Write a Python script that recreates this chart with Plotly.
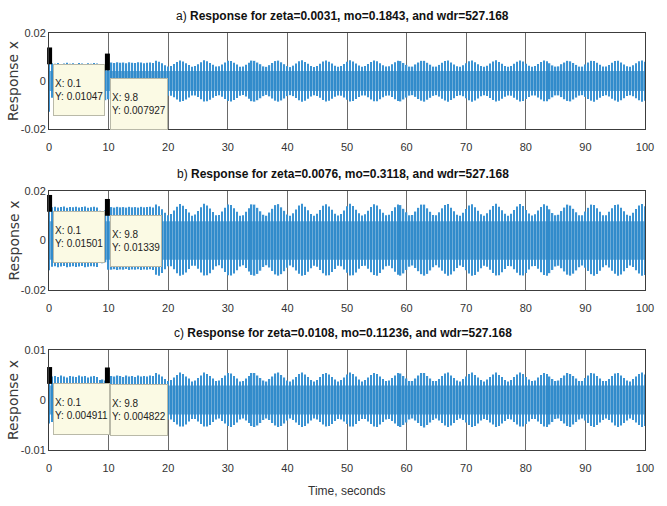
import numpy as np
import plotly.graph_objects as go

# ---------------- data ----------------
time_step = 0.5          # seconds between plotted samples
n_samples = 201          # 0 .. 100 s
t = np.round(np.arange(n_samples) * time_step, 3)

# upper / lower reach of the response around each sample, units of 1e-4
upper_a_e4 = [
    105, 74, 72, 75, 71, 73, 76, 72, 74, 70, 75, 73, 71, 74, 72, 75, 73,
    62, 60, 63,
    79,
    77, 75, 78, 76, 77, 74, 78, 76, 75, 78, 77, 74, 76, 77, 75,
    84, 80, 74, 66, 60, 63, 71, 79, 85, 81, 74, 67, 59, 62, 70,
    78, 86, 82, 75, 68, 60, 61, 69, 77, 84, 83, 76, 69, 59, 60,
    68, 76, 85, 84, 77, 70, 61, 59, 66, 75, 83, 85, 78, 70, 62,
    58, 64, 73, 82, 86, 79, 72, 63, 58, 63, 72, 81, 85, 80, 73,
    64, 59, 63, 71, 80, 86, 81, 73, 65, 59, 62, 71, 79, 85, 82,
    74, 66, 60, 61, 70, 78, 84, 83, 75, 67, 60, 60, 69, 77, 84,
    84, 76, 68, 60, 60, 67, 76, 83, 85, 77, 69, 61, 59, 66, 74,
    82, 85, 78, 70, 62, 59, 64, 73, 81, 86, 79, 72, 63, 59, 63,
    72, 80, 85, 81, 72, 64, 59, 62, 71, 79, 85, 82, 74, 65, 60,
    61, 70, 77, 84, 82, 75, 67, 60, 60, 69, 77, 84, 83, 76, 68,
    60, 60, 67, 76, 83, 84, 77, 69, 61, 59, 66, 74, 82, 85, 80,
]
lower_a_e4 = [
    -128, -70, -72, -68, -71, -69, -72, -70, -73, -69, -71, -74, -70, -72, -69, -71, -70,
    -82, -84, -80,
    -76,
    -76, -74, -77, -75, -78, -76, -74, -77, -75, -78, -76, -74, -77, -75, -76,
    -80, -83, -77, -69, -61, -61, -68, -77, -86, -83, -77, -69, -60, -60, -67,
    -76, -85, -84, -78, -70, -62, -59, -66, -75, -83, -85, -79, -71, -61, -58,
    -65, -74, -84, -86, -80, -72, -63, -58, -64, -73, -82, -86, -81, -73, -63,
    -59, -63, -71, -80, -86, -82, -74, -65, -59, -62, -70, -79, -85, -82, -74,
    -66, -60, -61, -69, -78, -85, -83, -75, -67, -60, -60, -68, -77, -84, -84,
    -76, -68, -61, -60, -67, -76, -83, -85, -77, -69, -61, -59, -66, -75, -82,
    -86, -78, -70, -62, -59, -65, -74, -81, -86, -79, -72, -63, -59, -64, -72,
    -80, -86, -81, -73, -64, -59, -63, -71, -79, -85, -82, -74, -66, -60, -61,
    -70, -78, -85, -83, -75, -67, -60, -60, -69, -77, -84, -84, -76, -68, -60,
    -60, -67, -76, -83, -85, -77, -69, -61, -59, -66, -75, -82, -86, -78, -70,
    -62, -59, -65, -74, -81, -86, -80, -72, -63, -59, -64, -72, -80, -86, -82,
]
upper_b_e4 = [
    150, 134, 136, 133, 135, 137, 132, 135, 134, 136, 133, 135, 137, 132, 134, 136, 133,
    120, 118, 122,
    134,
    135, 133, 136, 134, 135, 133, 136, 134, 135, 133, 136, 134, 135, 136, 133,
    145, 138, 126, 112, 102, 107, 121, 136, 147, 140, 127, 113, 100, 105, 119,
    134, 148, 141, 129, 115, 102, 103, 117, 132, 145, 143, 130, 116, 100, 102,
    116, 130, 146, 145, 132, 118, 104, 100, 113, 128, 143, 147, 134, 120, 105,
    100, 110, 125, 141, 148, 136, 122, 107, 100, 108, 123, 140, 146, 137, 124,
    108, 101, 107, 121, 138, 148, 139, 124, 110, 101, 106, 120, 135, 146, 141,
    126, 112, 102, 104, 119, 134, 145, 143, 128, 114, 102, 103, 117, 132, 145,
    145, 130, 116, 103, 102, 114, 130, 143, 147, 132, 118, 104, 100, 112, 127,
    141, 146, 134, 120, 106, 100, 110, 124, 139, 148, 136, 122, 108, 100, 108,
    123, 137, 147, 139, 123, 109, 101, 106, 121, 135, 146, 140, 126, 111, 102,
    104, 119, 133, 145, 141, 128, 114, 102, 102, 117, 132, 145, 143, 130, 116,
    102, 102, 116, 130, 143, 145, 132, 118, 104, 100, 112, 127, 141, 147, 138,
]
lower_b_e4 = [
    -120, -106, -104, -108, -105, -103, -108, -106, -104, -107, -105, -103, -108, -106, -104, -105, -107,
    -90, -92, -88,
    -118,
    -118, -116, -119, -117, -118, -115, -119, -117, -118, -116, -119, -117, -118, -116, -119,
    -138, -142, -131, -116, -104, -104, -116, -132, -142, -138, -129, -115, -102, -102, -114,
    -129, -141, -140, -132, -118, -104, -100, -112, -127, -140, -141, -133, -120, -105, -100,
    -111, -125, -139, -142, -135, -122, -107, -100, -109, -123, -137, -142, -136, -124, -110,
    -101, -108, -121, -134, -142, -139, -126, -112, -102, -106, -119, -132, -141, -140, -127,
    -115, -102, -104, -117, -130, -141, -140, -129, -114, -103, -102, -114, -128, -139, -142,
    -131, -117, -104, -102, -112, -126, -138, -142, -133, -119, -106, -101, -111, -124, -136,
    -142, -135, -121, -108, -100, -109, -122, -134, -142, -137, -124, -111, -101, -107, -120,
    -133, -142, -139, -126, -112, -102, -106, -118, -131, -141, -140, -128, -115, -103, -104,
    -116, -130, -140, -141, -131, -117, -104, -103, -114, -128, -139, -142, -132, -119, -105,
    -102, -112, -125, -138, -142, -134, -121, -108, -101, -110, -123, -136, -142, -135, -122,
    -108, -100, -109, -122, -134, -142, -137, -124, -111, -101, -107, -120, -133, -142, -139,
]
upper_c_e4 = [
    49, 47, 48, 46, 49, 47, 45, 48, 47, 46, 49, 47, 48, 45, 47, 48, 46,
    40, 41, 39,
    48,
    48, 47, 49, 48, 46, 49, 47, 48, 46, 49, 47, 48, 47, 49, 48,
    54, 51, 47, 42, 38, 40, 45, 50, 55, 52, 47, 43, 37, 39, 44,
    49, 55, 52, 48, 43, 38, 39, 44, 49, 54, 53, 48, 43, 37, 38,
    43, 48, 54, 54, 49, 44, 39, 37, 42, 47, 53, 55, 50, 45, 39,
    37, 41, 46, 52, 55, 51, 46, 40, 37, 40, 46, 52, 54, 51, 46,
    41, 37, 40, 45, 51, 55, 52, 47, 41, 37, 40, 45, 50, 54, 52,
    47, 42, 38, 39, 44, 49, 54, 53, 48, 43, 38, 38, 43, 49, 54,
    54, 48, 43, 38, 38, 42, 48, 53, 55, 49, 44, 39, 37, 42, 47,
    52, 55, 50, 45, 40, 37, 41, 46, 51, 55, 50, 46, 40, 37, 40,
    46, 51, 55, 52, 46, 41, 38, 39, 45, 50, 54, 52, 47, 42, 38,
    39, 44, 49, 54, 52, 48, 43, 38, 38, 44, 49, 54, 53, 48, 43,
    38, 38, 42, 48, 53, 54, 49, 44, 39, 37, 42, 47, 52, 55, 51,
]
lower_c_e4 = [
    -47, -44, -45, -43, -46, -44, -45, -43, -46, -44, -45, -47, -44, -46, -43, -45, -44,
    -50, -52, -49,
    -47,
    -47, -46, -48, -47, -45, -48, -46, -47, -45, -48, -46, -47, -46, -48, -47,
    -51, -53, -48, -43, -39, -39, -44, -49, -53, -53, -49, -43, -38, -38, -43,
    -48, -53, -53, -50, -44, -39, -37, -42, -47, -52, -54, -50, -45, -39, -37,
    -41, -46, -52, -54, -51, -46, -40, -37, -40, -46, -51, -54, -52, -47, -41,
    -37, -40, -45, -50, -54, -52, -47, -41, -37, -39, -44, -49, -53, -52, -48,
    -42, -38, -39, -43, -48, -53, -53, -48, -42, -38, -38, -43, -48, -53, -54,
    -49, -44, -39, -38, -42, -47, -52, -54, -50, -45, -39, -37, -41, -46, -52,
    -55, -50, -45, -40, -37, -41, -46, -51, -54, -51, -46, -40, -37, -40, -45,
    -50, -54, -52, -47, -41, -38, -40, -45, -49, -54, -52, -47, -42, -38, -39,
    -44, -49, -53, -53, -48, -43, -38, -38, -43, -48, -53, -54, -49, -44, -38,
    -37, -42, -47, -52, -54, -49, -44, -39, -37, -41, -46, -52, -54, -50, -45,
    -40, -37, -40, -45, -51, -54, -51, -46, -41, -37, -40, -45, -50, -54, -52,
]
# dense core of the oscillation (half-height), per panel
core_half = [0.0042, 0.0078, 0.0029]
core_span = [0, 100]

titles = [
    "a) <b>Response for zeta=0.0031, mo=0.1843, and wdr=527.168</b>",
    "b) <b>Response for zeta=0.0076, mo=0.3118, and wdr=527.168</b>",
    "c) <b>Response for zeta=0.0108, mo=0.11236, and wdr=527.168</b>",
]
tip_x = [0.1, 9.8]
tip_y_a = [0.01047, 0.007927]
tip_y_b = [0.01501, 0.01339]
tip_y_c = [0.004911, 0.004822]
y_limits = [0.02, 0.02, 0.01]
y_tick_text = [["-0.02", "0", "0.02"], ["-0.02", "0", "0.02"], ["-0.01", "0", "0.01"]]
x_ticks = [0, 10, 20, 30, 40, 50, 60, 70, 80, 90, 100]
x_label = "Time, seconds"
y_label = "Response x"

# ---------------- styling ----------------
W, H = 667, 506
SPIKE = "#3b93d3"
FONT = "Liberation Sans, Arial, sans-serif"
x_dom = [49 / W, 645 / W]
y_px = [(33, 129), (191, 290), (350, 450)]   # top, bottom pixel of each panel
y_doms = [[1 - b / H, 1 - t_ / H] for t_, b in y_px]

uppers = [upper_a_e4, upper_b_e4, upper_c_e4]
lowers = [lower_a_e4, lower_b_e4, lower_c_e4]
tips = [tip_y_a, tip_y_b, tip_y_c]

fig = go.Figure()
annotations = []
for i in range(3):
    xa = "x" if i == 0 else f"x{i+1}"
    ya = "y" if i == 0 else f"y{i+1}"
    up = np.array(uppers[i]) * 1e-4
    lo = np.array(lowers[i]) * 1e-4
    # dense core band
    fig.add_trace(go.Scatter(x=core_span, y=[core_half[i]] * 2, mode="lines",
                             line=dict(width=0), xaxis=xa, yaxis=ya,
                             showlegend=False, hoverinfo="skip"))
    fig.add_trace(go.Scatter(x=core_span, y=[-core_half[i]] * 2, mode="lines",
                             line=dict(width=0), fill="tonexty",
                             fillcolor="rgba(45,135,200,0.70)", xaxis=xa, yaxis=ya,
                             showlegend=False, hoverinfo="skip"))
    # individual oscillation spikes
    fig.add_trace(go.Bar(x=t, y=up - lo, base=lo, width=0.22,
                         marker=dict(color=SPIKE, line=dict(width=0)),
                         xaxis=xa, yaxis=ya, showlegend=False, hoverinfo="skip"))
    fig.add_trace(go.Scatter(x=tip_x, y=tips[i], mode="markers",
                             marker=dict(symbol="line-ns", size=12,
                                         line=dict(color="black", width=5)),
                             xaxis=xa, yaxis=ya, showlegend=False,
                             cliponaxis=False, hoverinfo="skip"))
    lim = y_limits[i]
    layout_x = dict(domain=x_dom, range=[0, 100], tickvals=x_ticks,
                    ticktext=[str(v) for v in x_ticks], automargin=False,
                    showgrid=True, gridcolor="#6a6a6a", gridwidth=1,
                    showline=True, mirror=True, linecolor="#3c3c3c", linewidth=1,
                    ticks="", zeroline=False, anchor=ya,
                    ticklabelstandoff=8,
                    tickfont=dict(family=FONT, size=11, color="#333333"))
    layout_y = dict(domain=y_doms[i], range=[-lim, lim], automargin=False,
                    tickvals=[-lim, 0, lim], ticktext=y_tick_text[i],
                    showgrid=False, zeroline=False,
                    showline=True, mirror=True, linecolor="#3c3c3c", linewidth=1,
                    ticks="", anchor=xa,
                    tickfont=dict(family=FONT, size=11, color="#333333"))
    key = "" if i == 0 else str(i + 1)
    fig.layout["xaxis" + key] = layout_x
    fig.layout["yaxis" + key] = layout_y

    # panel title
    annotations.append(dict(text=titles[i], xref="paper", yref="paper",
                            x=343 / W, y=1 - (y_px[i][0] - 17) / H,
                            xanchor="center", yanchor="middle", showarrow=False,
                            font=dict(family=FONT, size=12, color="#111111")))
    # y label
    annotations.append(dict(text=y_label, xref="paper", yref="paper",
                            x=13 / W, y=1 - (y_px[i][0] + y_px[i][1]) / 2 / H,
                            textangle=-90, xanchor="center", yanchor="middle",
                            showarrow=False,
                            font=dict(family="DejaVu Sans", size=14, color="#3a3a3a")))
    # data tips
    for j in range(2):
        ysh = -16 if (i == 0 and j == 1) else -8
        annotations.append(dict(text=f"X: {tip_x[j]}<br>Y: {tips[i][j]}",
                                xref=xa, yref=ya, x=tip_x[j], y=tips[i][j],
                                xanchor="left", yanchor="top", xshift=3, yshift=ysh,
                                showarrow=False, align="left", valign="middle",
                                height=48,
                                bgcolor="#fbfae4", bordercolor="#b9b9a8", borderwidth=1,
                                borderpad=1,
                                font=dict(family=FONT, size=10, color="#222222")))

annotations.append(dict(text=x_label, xref="paper", yref="paper",
                        x=347 / W, y=1 - 491 / H, xanchor="center", yanchor="middle",
                        showarrow=False,
                        font=dict(family=FONT, size=12, color="#333333")))

fig.update_layout(autosize=True, margin=dict(l=0, r=0, t=0, b=0, pad=0),
                  paper_bgcolor="white", plot_bgcolor="white", barmode="overlay",
                  annotations=annotations, showlegend=False)

fig.write_html(
    "out.html",
    default_width="100vw", default_height="100vh",
    config={"displayModeBar": False, "responsive": True},
    post_script=("document.documentElement.style.overflow='hidden';"
                 "document.body.style.margin='0';"
                 "document.body.style.overflow='hidden';"),
)
